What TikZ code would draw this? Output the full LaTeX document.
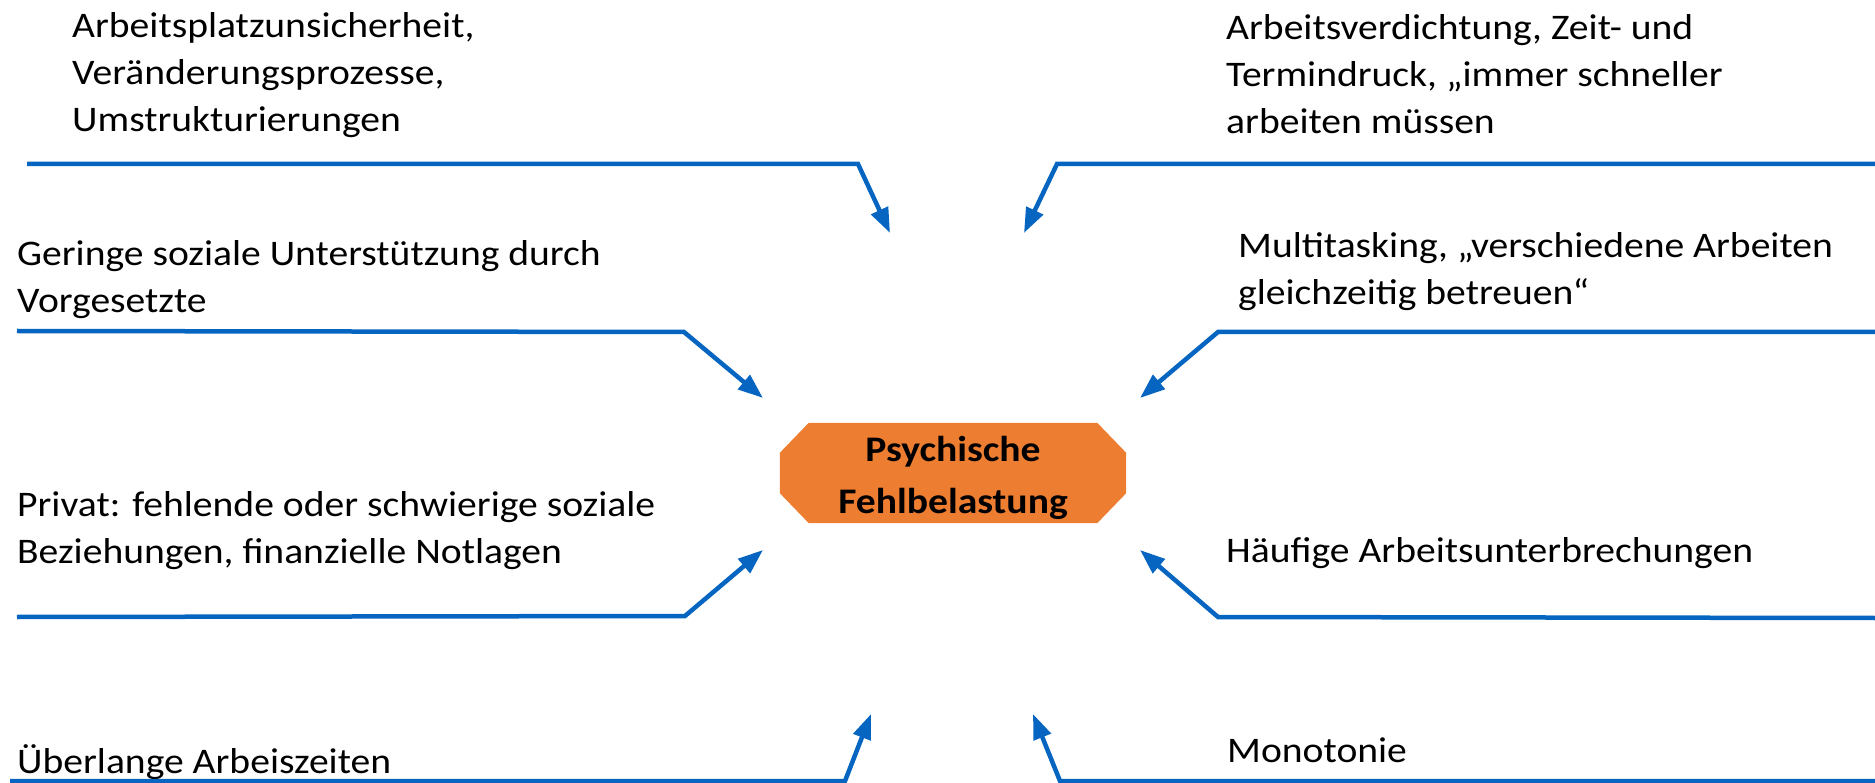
\documentclass[tikz,border=0pt]{standalone}
\usepackage{fontspec}
\setmainfont{Carlito}[FakeStretch=1.1]
\usetikzlibrary{arrows.meta}
\definecolor{lineblue}{HTML}{0565C0}
\definecolor{boxorange}{HTML}{ED7D31}
\tikzset{
  lbl/.style={anchor=base west, inner sep=0pt, align=left, font=\fontsize{36}{47}\selectfont},
  mid/.style={anchor=base, inner sep=0pt, font=\fontsize{36}{45}\selectfont\bfseries},
  conn/.style={draw=lineblue, line width=4.5pt, line join=miter, -{Triangle[length=25pt,width=18pt]}},
}
\begin{document}
\begin{tikzpicture}[x=1pt,y=-1pt]
\useasboundingbox (0,0) rectangle (1875,783);
% central node
\node[inner sep=0pt, minimum width=346pt, minimum height=100pt] (fb) at (953,473) {};
\fill[boxorange] ([xshift=29pt]fb.north west) -- ([xshift=-29pt]fb.north east) -- ([yshift=-30pt]fb.north east) -- ([yshift=30pt]fb.south east) -- ([xshift=-29pt]fb.south east) -- ([xshift=29pt]fb.south west) -- ([yshift=30pt]fb.south west) -- ([yshift=-30pt]fb.north west) -- cycle;
\node[mid] (fbt1) at (953,462) {Psychische};
\node[mid] (fbt2) at (953,513) {Fehlbelastung};
% texts (anchor = baseline of the last line)
\node[lbl] (t1) at (72,132) {Arbeitsplatzunsicherheit,\\Veränderungsprozesse,\\Umstrukturierungen};
\node[lbl] (t2) at (1226,134) {Arbeitsverdichtung, Zeit- und\\Termindruck, „immer schneller\\arbeiten müssen};
\node[lbl] (t3) at (17,313) {Geringe soziale Unterstützung durch\\Vorgesetzte};
\node[lbl] (t4) at (1238,305) {Multitasking, „verschiedene Arbeiten\\gleichzeitig betreuen“};
\node[lbl] (t5) at (17,563) {Privat: fehlende oder schwierige soziale\\Beziehungen, finanzielle Notlagen};
\node[lbl] (t6) at (1226,562) {Häufige Arbeitsunterbrechungen};
\node[lbl] (t7) at (17,773) {Überlange Arbeiszeiten};
\node[lbl] (t8) at (1227,762) {Monotonie};
% connector coordinates
\coordinate (a1) at (27,164);   \coordinate (b1) at (858,164);  \coordinate (c1) at (890,233);
\coordinate (a2) at (1875,164); \coordinate (b2) at (1057,164); \coordinate (c2) at (1024,233);
\coordinate (a3) at (17,331);   \coordinate (b3) at (684,332);  \coordinate (c3) at (763,398);
\coordinate (a4) at (1875,332); \coordinate (b4) at (1218,332); \coordinate (c4) at (1140,398);
\coordinate (a5) at (17,617);   \coordinate (b5) at (685,616);  \coordinate (c5) at (763,550);
\coordinate (a6) at (1875,618); \coordinate (b6) at (1218,617); \coordinate (c6) at (1140,550);
\coordinate (a7) at (10,781);   \coordinate (b7) at (845,781);  \coordinate (c7) at (871,714);
\coordinate (a8) at (1875,781); \coordinate (b8) at (1060,781); \coordinate (c8) at (1033,714);
\draw[conn] (a1) -- (b1) -- (c1);
\draw[conn] (a2) -- (b2) -- (c2);
\draw[conn] (a3) -- (b3) -- (c3);
\draw[conn] (a4) -- (b4) -- (c4);
\draw[conn] (a5) -- (b5) -- (c5);
\draw[conn] (a6) -- (b6) -- (c6);
\draw[conn] (a7) -- (b7) -- (c7);
\draw[conn] (a8) -- (b8) -- (c8);
\end{tikzpicture}
\end{document}
